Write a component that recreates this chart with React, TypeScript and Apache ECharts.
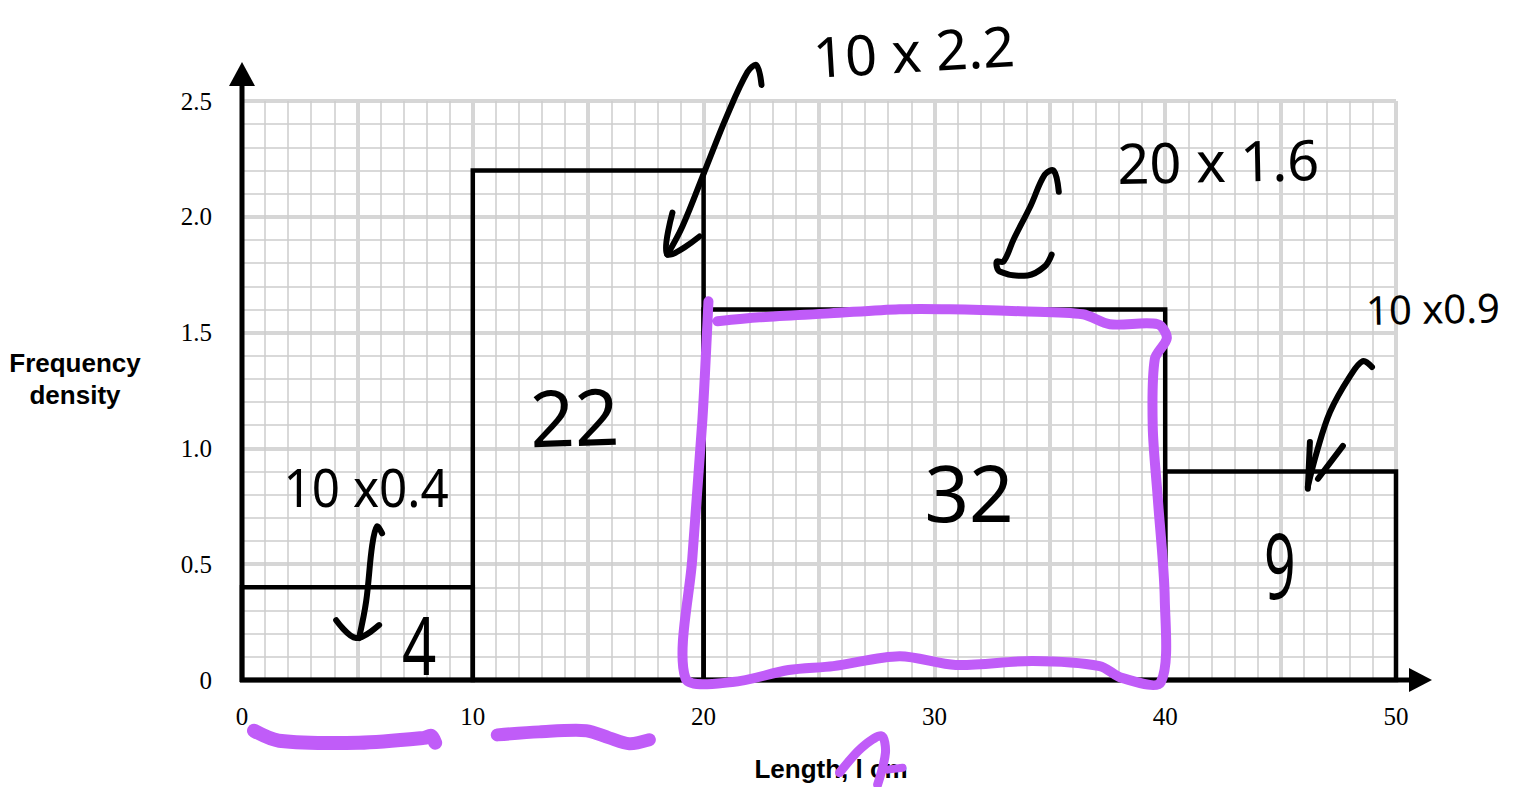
import React, { useEffect, useRef } from 'react';
import * as echarts from 'echarts';

// ---- chart data ----
const binEdges = [0, 10, 20, 40, 50];
const frequencyDensity = [0.4, 2.2, 1.6, 0.9];
const xTickValues = [0, 10, 20, 30, 40, 50];
const yTickLabels = ['0', '0.5', '1.0', '1.5', '2.0', '2.5'];
const xAxisTitle = 'Length, l cm';
const yAxisTitle = 'Frequency\ndensity';

// ---- handwritten notes, in data coordinates ----
const noteTexts = ['10 x 2.2', '20 x 1.6', '10 x0.9', '10 x0.4', '22', '32', '9', '4'];
const noteAnchors = [
  [29.1, 2.72],
  [42.3, 2.245],
  [48.7, 1.6],
  [5.38, 0.835],
  [14.4, 1.14],
  [31.5, 0.813],
  [44.97, 0.503],
  [7.68, 0.155],
];

const blackStrokes = [
  [[22.51, 2.569], [22.29, 2.655], [21.9, 2.625], [20.99, 2.431], [20.12, 2.216], [19.08, 1.958], [18.43, 1.837]],
  [[18.65, 2.018], [18.43, 1.837], [19.82, 1.915]],
  [[35.39, 2.108], [35.17, 2.199], [34.78, 2.182], [34.17, 2.048], [33.43, 1.902], [33.0, 1.807], [32.7, 1.807], [32.83, 1.764], [34.04, 1.747], [34.78, 1.786], [35.08, 1.837]],
  [[48.96, 1.351], [48.57, 1.377], [48.01, 1.312], [47.14, 1.157], [46.57, 0.985], [46.18, 0.835]],
  [[46.27, 1.028], [46.18, 0.826]],
  [[47.7, 1.011], [46.62, 0.869]],
  [[6.07, 0.633], [5.85, 0.663], [5.64, 0.581], [5.38, 0.34], [5.07, 0.181]],
  [[4.08, 0.258], [4.94, 0.181], [5.94, 0.237]],
];

const purpleStrokes = [
  [[20.21, 1.635], [19.95, 1.127], [19.51, 0.525], [19.21, 0.009], [21.25, -0.009], [23.68, 0.043], [25.62, 0.06], [28.49, 0.103], [30.92, 0.065], [34.26, 0.082], [37.16, 0.06], [38.12, 0.009], [39.81, -0.009], [39.98, 0.353], [39.68, 0.783], [39.46, 1.093], [39.55, 1.386], [40.07, 1.476], [39.68, 1.536], [37.6, 1.536], [36.43, 1.579], [33.74, 1.592], [30.66, 1.601], [28.49, 1.601], [25.46, 1.583], [22.42, 1.566], [20.6, 1.549]],
  [[0.52, -0.219], [1.6, -0.262], [5.07, -0.271], [7.89, -0.25], [8.2, -0.241], [8.37, -0.271]],
  [[11.06, -0.237], [12.88, -0.224], [14.92, -0.219], [15.91, -0.25], [16.78, -0.275], [17.65, -0.258]],
  [[25.89, -0.4], [26.84, -0.293], [27.71, -0.241], [27.88, -0.314], [27.54, -0.452]],
  [[27.97, -0.387], [28.62, -0.379]],
];

// ---- styles for the notes ----
const noteStyles = [
  { size: 56, align: 'center', rot: 0.06, sx: 1 },
  { size: 56, align: 'center', rot: 0.02, sx: 1 },
  { size: 40, align: 'left', rot: 0.02, sx: 1 },
  { size: 52, align: 'center', rot: 0, sx: 0.95 },
  { size: 78, align: 'center', rot: 0.03, sx: 1 },
  { size: 78, align: 'center', rot: 0, sx: 1 },
  { size: 92, align: 'center', rot: 0, sx: 0.6 },
  { size: 80, align: 'center', rot: 0, sx: 0.75 },
];
const purpleWidths = [10, 14, 13, 9, 8];
const PURPLE = '#c05cf8';
const HAND_FONT = 'Noto Sans';

export default function App() {
  const ref = useRef<HTMLDivElement>(null);

  useEffect(() => {
    const chart = echarts.init(ref.current!, null, { renderer: 'svg' });
    const histData = frequencyDensity.map((d, i) => [binEdges[i], binEdges[i + 1], d]);
    const xMin = xTickValues[0];
    const xMax = xTickValues[xTickValues.length - 1];

    const option: any = {
      animation: false,
      backgroundColor: '#ffffff',
      grid: { left: 242, right: 122, top: 101, bottom: 105, containLabel: false },
      graphic: [
        {
          type: 'text',
          x: 75,
          y: 379,
          style: {
            text: yAxisTitle,
            fill: '#000',
            fontFamily: 'Liberation Sans',
            fontWeight: 'bold',
            fontSize: 26,
            lineHeight: 32,
            align: 'center',
            verticalAlign: 'middle',
          },
        },
      ],
      xAxis: {
        type: 'value',
        min: xMin,
        max: xMax,
        interval: 5,
        axisLine: { show: false },
        axisTick: { show: false },
        minorTick: { show: false, splitNumber: 5 },
        axisLabel: {
          show: true,
          showMinLabel: true,
          showMaxLabel: true,
          margin: 24,
          color: '#000',
          fontFamily: 'Liberation Serif',
          fontSize: 25,
          formatter: (v: number) => (xTickValues.includes(v) ? String(v) : ''),
        },
        splitLine: { show: true, lineStyle: { color: '#d6d6d6', width: 4 } },
        minorSplitLine: { show: true, lineStyle: { color: '#cccccc', width: 1.5 } },
        name: xAxisTitle,
        nameLocation: 'middle',
        nameGap: 76,
        nameTextStyle: {
          color: '#000',
          fontFamily: 'Liberation Sans',
          fontWeight: 'bold',
          fontSize: 26,
          padding: [0, 0, 0, 24],
        },
      },
      yAxis: {
        type: 'value',
        min: 0,
        max: 2.5,
        interval: 0.5,
        axisLine: { show: false },
        axisTick: { show: false },
        minorTick: { show: false, splitNumber: 5 },
        axisLabel: {
          show: true,
          margin: 30,
          color: '#000',
          fontFamily: 'Liberation Serif',
          fontSize: 25,
          padding: [0, 0, 8, 0],
          formatter: (v: number) => yTickLabels[Math.round(v / 0.5)] ?? '',
        },
        splitLine: { show: true, lineStyle: { color: '#d6d6d6', width: 4 } },
        minorSplitLine: { show: true, lineStyle: { color: '#cccccc', width: 1.5 } },
      },
      series: [
        {
          type: 'custom',
          name: 'histogram',
          coordinateSystem: 'cartesian2d',
          clip: false,
          z: 3,
          encode: { x: [0, 1], y: 2 },
          data: histData,
          renderItem: (_p: any, api: any) => {
            const x0 = api.value(0);
            const x1 = api.value(1);
            const h = api.value(2);
            const a = api.coord([x0, h]);
            const b = api.coord([x1, 0]);
            return {
              type: 'rect',
              shape: { x: a[0], y: a[1], width: b[0] - a[0], height: b[1] - a[1] },
              style: { fill: 'none', stroke: '#000', lineWidth: 4.5 },
            };
          },
        },
        {
          type: 'custom',
          name: 'axes',
          coordinateSystem: 'cartesian2d',
          clip: false,
          z: 4,
          data: [[0, 0]],
          renderItem: (_p: any, api: any) => {
            const o = api.coord([xMin, 0]);
            const yt = api.coord([xMin, 2.5]);
            const xr = api.coord([xMax, 0]);
            const yTop = yt[1] - 16;
            const xEnd = xr[0] + 14;
            return {
              type: 'group',
              children: [
                { type: 'line', shape: { x1: o[0], y1: o[1] + 2, x2: o[0], y2: yTop }, style: { stroke: '#000', lineWidth: 5 } },
                { type: 'line', shape: { x1: o[0] - 2, y1: o[1], x2: xEnd, y2: o[1] }, style: { stroke: '#000', lineWidth: 5 } },
                { type: 'polygon', shape: { points: [[o[0] - 13, yTop + 1], [o[0] + 13, yTop + 1], [o[0], yTop - 23]] }, style: { fill: '#000' } },
                { type: 'polygon', shape: { points: [[xEnd - 1, o[1] - 12], [xEnd - 1, o[1] + 12], [xEnd + 22, o[1]]] }, style: { fill: '#000' } },
              ],
            };
          },
        },
        {
          type: 'custom',
          name: 'notes',
          coordinateSystem: 'cartesian2d',
          clip: false,
          z: 10,
          data: [[0, 0]],
          renderItem: (_p: any, api: any) => {
            const children: any[] = [];
            blackStrokes.forEach((pts) => {
              children.push({
                type: 'polyline',
                shape: { points: pts.map((p) => api.coord(p)), smooth: 0.35 },
                style: { stroke: '#000', fill: 'none', lineWidth: 6, lineCap: 'round', lineJoin: 'round' },
              });
            });
            noteTexts.forEach((t, i) => {
              const p = api.coord(noteAnchors[i]);
              const s = noteStyles[i];
              children.push({
                type: 'text',
                x: p[0],
                y: p[1],
                rotation: s.rot,
                scaleX: s.sx,
                style: {
                  text: t,
                  fill: '#000',
                  fontFamily: HAND_FONT,
                  fontSize: s.size,
                  fontWeight: 'normal',
                  align: s.align,
                  verticalAlign: 'middle',
                },
              });
            });
            purpleStrokes.forEach((pts, i) => {
              children.push({
                type: 'polyline',
                shape: { points: pts.map((p) => api.coord(p)), smooth: 0.3 },
                style: { stroke: PURPLE, fill: 'none', lineWidth: purpleWidths[i], lineCap: 'round', lineJoin: 'round' },
              });
            });
            return { type: 'group', children };
          },
        },
      ],
    };

    chart.setOption(option);
    return () => chart.dispose();
  }, []);

  return (
    <div
      ref={ref}
      style={{ position: 'fixed', left: 0, top: 0, width: 1518, height: 787, background: '#fff' }}
    />
  );
}
